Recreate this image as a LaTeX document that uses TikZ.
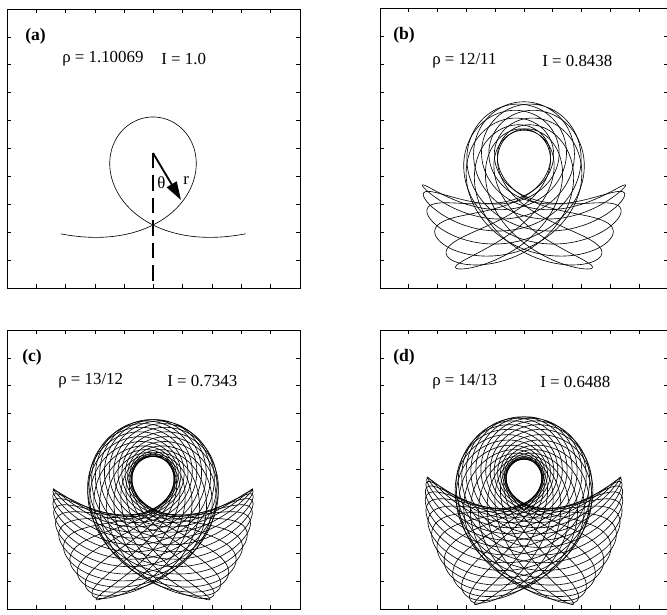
\documentclass[tikz,border=0pt]{standalone}
\usepackage{fontspec}
\setmainfont{Liberation Serif}
\usetikzlibrary{arrows.meta}

\tikzset{
  frame/.style={line width=0.5pt},
  orbit/.style={line width=0.45pt, line join=round},
  lbl/.style={anchor=west, inner sep=0pt, font=\fontsize{12}{14}\selectfont},
  tag/.style={lbl, font=\fontsize{12.5}{14}\selectfont\bfseries},
  declare function={
    ox(\xs,\xt)=2*(\xs)*(\xt)*((\xs)*(\xs)-(\xt)*(\xt))/((\xs)*(\xs)+(\xt)*(\xt));
    oy(\xs,\xt)=((\xs)^4-6*(\xs)*(\xs)*(\xt)*(\xt)+(\xt)^4)/(2*((\xs)*(\xs)+(\xt)*(\xt)));
  }
}

% box with ten inward ticks on each side
\newcommand{\tickframe}[4]{%
  \draw[frame] (#1,#2) rectangle (#3,#4);
  \foreach \k in {1,...,9} {
    \draw[frame] ({#1+\k*(#3-#1)/10},#2) -- ++(0,4);
    \draw[frame] ({#1+\k*(#3-#1)/10},#4) -- ++(0,-4);
    \draw[frame] (#1,{#2+\k*(#4-#2)/10}) -- ++(4,0);
    \draw[frame] (#3,{#2+\k*(#4-#2)/10}) -- ++(-4,0);
  }
}

% one point of the orbit, step number #1 (1.5 deg each)
\newcommand{\orbpoint}[1]{%
  \pgfmathsetmacro\qa{1.5*#1}%
  \pgfmathsetmacro\qp{\kap*\qa+\off}%
  \pgfmathsetmacro\qs{\smid+\sone*cos(\qp)+\stwo*cos(2*\qp)}%
  \pgfmathsetmacro\qt{\tnorm*(cos(\qa)+\tthr*cos(3*\qa)+\tfiv*cos(5*\qa))}%
  \pgfmathsetmacro\qss{(\qs)*(\qs)}%
  \pgfmathsetmacro\qtt{(\qt)*(\qt)}%
  \pgfmathsetmacro\qx{2*(\qs)*(\qt)*(\qss-\qtt)/(\qss+\qtt)}%
  \pgfmathsetmacro\qy{(\qss*\qss-6*\qss*\qtt+\qtt*\qtt)/(2*(\qss+\qtt))}%
}

% closed orbit: slope, phase, number of periods
\newcommand{\orbitplot}[3]{%
  \def\kap{#1}%
  \foreach \k in {1,...,#3} {
    \pgfmathsetmacro{\off}{mod(#1*(360*(\k-1)-90)+#2,360)}
    \gdef\orbpts{}
    \foreach \i in {0,...,240} {
      \orbpoint{\i}
      \xdef\orbpts{\orbpts(\qx,\qy)}
    }
    \edef\orbdraw{\noexpand\draw[orbit] plot coordinates {\orbpts};}
    \orbdraw
  }
}

\begin{document}
\begin{tikzpicture}[x=0.025cm, y=-0.025cm]
  \useasboundingbox (0,0) rectangle (667,615);
  \clip (0,0) rectangle (667,615);

  % (a)
  \tickframe{7}{9}{300}{288}
  \node[tag] (taga) at (25,36) {(a)};
  \node[lbl] (rhoa) at (62,59) {ρ = 1.10069};
  \node[lbl] (ia) at (161,59) {I = 1.0};
  \coordinate (Oa) at (153,153);
  \coordinate (Da) at (153,288);
  \coordinate (Ra) at (181,200);
  \begin{scope}[shift={(Oa)}, x=1.8cm, y=1.8cm]
    \draw[orbit] plot[domain=-1.55377:1.55377, samples=301, variable=\t] ({ox(1,\t)},{oy(1,\t)});
  \end{scope}
  \draw[line width=1.2pt, dash pattern=on 11pt off 5pt] (Oa) -- (Da);
  \draw[line width=1.3pt, -{Triangle[length=13pt, width=8pt]}] (Oa) -- (Ra);
  \node[lbl] (tha) at (157,183) {θ};
  \node[lbl] (ra) at (183,181) {r};

  % (b)
  \tickframe{380}{8}{668}{288}
  \node[tag] (tagb) at (393,35) {(b)};
  \node[lbl] (rhob) at (432,61) {ρ = 12/11};
  \node[lbl] (ib) at (542,61) {I = 0.8438};
  \coordinate (Ob) at (524,152);
  \begin{scope}[shift={(Ob)}, x=1.8cm, y=1.8cm]
    \def\smid{0.96895}\def\sone{0.20175}\def\stwo{0.010503}
    \def\tnorm{1.32777}\def\tthr{0.13919}\def\tfiv{0.01730}
    \orbitplot{11/6}{0}{6}
  \end{scope}

  % (c)
  \tickframe{7}{330}{300}{609}
  \node[tag] (tagc) at (22,357) {(c)};
  \node[lbl] (rhoc) at (58,381) {ρ = 13/12};
  \node[lbl] (ic) at (167,381) {I = 0.7343};
  \coordinate (Oc) at (153,474);
  \begin{scope}[shift={(Oc)}, x=1.8cm, y=1.8cm]
    \def\smid{0.94466}\def\sone{0.2675}\def\stwo{0.018938}
    \def\tnorm{1.30682}\def\tthr{0.14585}\def\tfiv{0.018918}
    \orbitplot{24/13}{6.923}{13}
  \end{scope}

  % (d)
  \tickframe{380}{330}{668}{609}
  \node[tag] (tagd) at (393,357) {(d)};
  \node[lbl] (rhod) at (432,382) {ρ = 14/13};
  \node[lbl] (id) at (540,382) {I = 0.6488};
  \coordinate (Od) at (524,474);
  \begin{scope}[shift={(Od)}, x=1.8cm, y=1.8cm]
    \def\smid{0.92383}\def\sone{0.31185}\def\stwo{0.026318}
    \def\tnorm{1.28902}\def\tthr{0.15199}\def\tfiv{0.020465}
    \orbitplot{13/7}{6.4286}{7}
    \orbitplot{13/7}{-6.4286}{7}
  \end{scope}
\end{tikzpicture}
\end{document}
